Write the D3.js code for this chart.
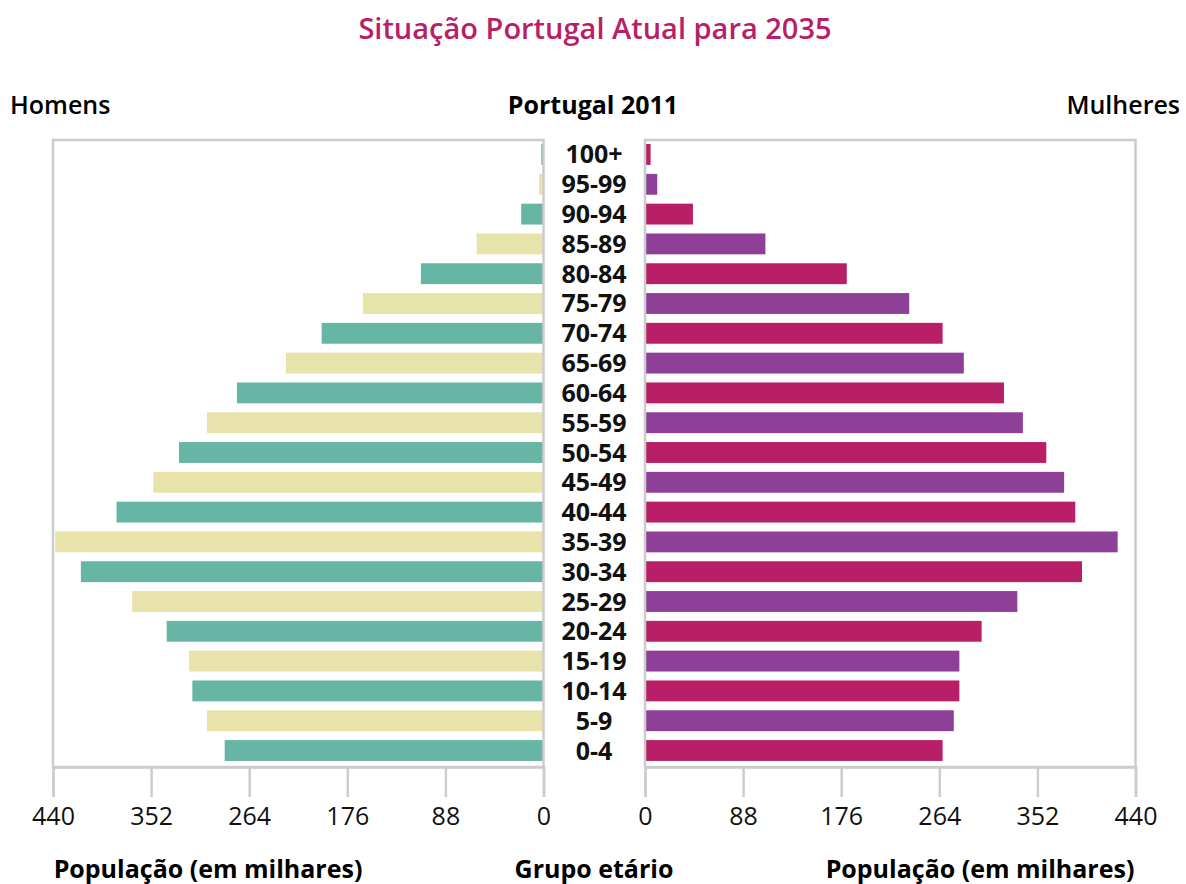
<!DOCTYPE html>
<html>
<head>
<meta charset="utf-8">
<script src="https://cdn.jsdelivr.net/npm/d3@7"></script>
<style>
  body { margin: 0; background: #fff; font-family: "Open Sans", sans-serif; }
  svg text { font-family: "Open Sans", sans-serif; }
</style>
</head>
<body>
<div id="chart"></div>
<script>
const ageGroups = ["100+", "95-99", "90-94", "85-89", "80-84", "75-79", "70-74", "65-69",
  "60-64", "55-59", "50-54", "45-49", "40-44", "35-39", "30-34", "25-29", "20-24",
  "15-19", "10-14", "5-9", "0-4"];
const homens = [2, 4, 20, 60, 110, 162, 199, 231, 275, 302, 327, 350, 383, 438, 415, 369, 338, 318, 315, 302, 286];
const mulheres = [5, 11, 43, 108, 181, 237, 267, 286, 322, 339, 360, 376, 386, 424, 392, 334, 302, 282, 282, 277, 267];
const tickValues = [0, 88, 176, 264, 352, 440];

const width = 1186, height = 884;
const plotTop = 140, plotBottom = 767;
const gray = "#cccccc";

const svg = d3.select("#chart").append("svg")
  .attr("width", width)
  .attr("height", height);

// scales
const xLeft = d3.scaleLinear().domain([0, 440]).range([543.5, 53]);
const xRight = d3.scaleLinear().domain([0, 440]).range([645, 1135.5]);
const y = d3.scaleBand()
  .domain(ageGroups)
  .range([139, 766])
  .paddingInner(0.3)
  .paddingOuter(0.17);

// title + headers
svg.append("text")
  .attr("x", 595).attr("y", 39)
  .attr("text-anchor", "middle")
  .attr("font-size", 29).attr("font-weight", 600)
  .attr("fill", "#b81f66")
  .text("Situação Portugal Atual para 2035");

svg.append("text").attr("x", 10).attr("y", 114)
  .attr("font-size", 25).attr("font-weight", 600)
  .text("Homens");
svg.append("text").attr("x", 593).attr("y", 114)
  .attr("text-anchor", "middle")
  .attr("font-size", 25).attr("font-weight", 700)
  .text("Portugal 2011");
svg.append("text").attr("x", 1180).attr("y", 114)
  .attr("text-anchor", "end")
  .attr("font-size", 25).attr("font-weight", 600)
  .text("Mulheres");

// bars
svg.append("g").selectAll("rect")
  .data(homens)
  .join("rect")
  .attr("x", d => xLeft(d))
  .attr("y", (d, i) => y(ageGroups[i]))
  .attr("width", d => xLeft(0) - xLeft(d))
  .attr("height", y.bandwidth())
  .attr("fill", (d, i) => i % 2 === 0 ? "#67b5a5" : "#e8e3aa");

svg.append("g").selectAll("rect")
  .data(mulheres)
  .join("rect")
  .attr("x", xRight(0))
  .attr("y", (d, i) => y(ageGroups[i]))
  .attr("width", d => xRight(d) - xRight(0))
  .attr("height", y.bandwidth())
  .attr("fill", (d, i) => i % 2 === 0 ? "#b81f66" : "#8e4099");

// panel frames
[xLeft, xRight].forEach(sc => {
  const r = sc.range();
  svg.append("rect")
    .attr("x", Math.min(r[0], r[1]))
    .attr("y", plotTop)
    .attr("width", Math.abs(r[1] - r[0]))
    .attr("height", plotBottom - plotTop)
    .attr("fill", "none")
    .attr("stroke", gray)
    .attr("stroke-width", 2.5);
});

// axes
[xLeft, xRight].forEach(sc => {
  const g = svg.append("g")
    .attr("transform", `translate(0,${plotBottom})`)
    .call(d3.axisBottom(sc).tickValues(tickValues).tickSize(30).tickPadding(10));
  g.select(".domain").attr("stroke", gray).attr("stroke-width", 2.5);
  g.selectAll(".tick line").attr("stroke", gray).attr("stroke-width", 2.5);
  g.selectAll(".tick text")
    .attr("font-size", 25)
    .attr("fill", "#111");
});

// age labels
svg.append("g").selectAll("text")
  .data(ageGroups)
  .join("text")
  .attr("x", 594)
  .attr("y", d => y(d) + y.bandwidth() / 2)
  .attr("dy", "0.36em")
  .attr("text-anchor", "middle")
  .attr("font-size", 25).attr("font-weight", 700)
  .attr("fill", "#111")
  .text(d => d);

// axis titles
svg.append("text").attr("x", 208).attr("y", 878)
  .attr("text-anchor", "middle")
  .attr("font-size", 25).attr("font-weight", 700)
  .text("População (em milhares)");
svg.append("text").attr("x", 594).attr("y", 878)
  .attr("text-anchor", "middle")
  .attr("font-size", 25).attr("font-weight", 700)
  .text("Grupo etário");
svg.append("text").attr("x", 980).attr("y", 878)
  .attr("text-anchor", "middle")
  .attr("font-size", 25).attr("font-weight", 700)
  .text("População (em milhares)");
</script>
</body>
</html>
